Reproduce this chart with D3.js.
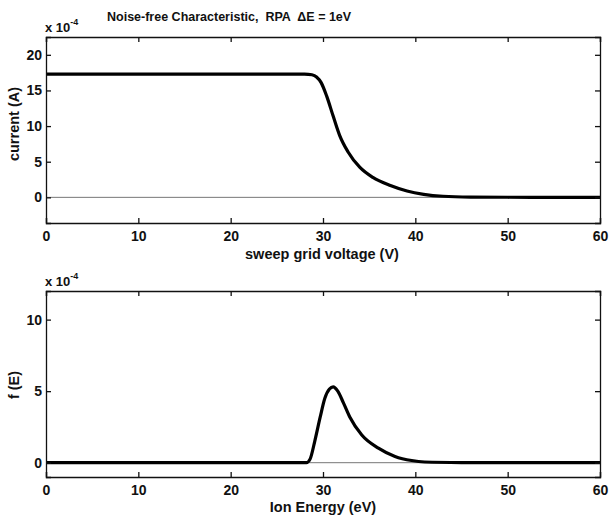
<!DOCTYPE html>
<html>
<head>
<meta charset="utf-8">
<script src="https://cdn.jsdelivr.net/npm/d3@7"></script>
<style>
  body { margin: 0; background: #fff; }
  svg text { font-family: "Liberation Sans", Arial, sans-serif; font-weight: bold; fill: #111; }
</style>
</head>
<body>
<div id="chart"></div>
<script>
// Top panel: current vs sweep grid voltage (x 10^-4 A)
const sweepVoltage = [0, 10, 20, 26, 28.0, 28.8, 29.3, 29.8, 30.4, 31.1, 31.8, 32.7, 34.0, 35.4, 37.3, 39.1, 40.9, 43, 46, 50, 55, 60];
const current      = [17.3, 17.3, 17.3, 17.3, 17.3, 17.2, 16.9, 16.1, 14.2, 11.4, 8.7, 6.4, 4.2, 2.8, 1.65, 0.88, 0.42, 0.15, 0.04, 0.01, 0, 0];

// Bottom panel: f(E) vs ion energy (x 10^-4)
const ionEnergy = [0, 10, 20, 26, 28.2, 28.6, 29.1, 29.7, 30.2, 30.7, 31.1, 31.6, 32.2, 32.9, 34.2, 36.0, 37.8, 39.6, 41, 45, 50, 55, 60];
const fE        = [0, 0, 0, 0, 0, 0.25, 1.48, 3.2, 4.5, 5.15, 5.3, 5.0, 4.2, 3.2, 1.94, 1.02, 0.44, 0.15, 0.05, 0.01, 0, 0, 0];

const xTicks = [0, 10, 20, 30, 40, 50, 60];
const topYTicks = [0, 5, 10, 15, 20];
const bottomYTicks = [0, 5, 10];

const svg = d3.select('#chart').append('svg')
    .attr('width', 609)
    .attr('height', 515);

const left = 46, right = 600;

// Draw one panel
const panel = (cfg) => {
    const x = d3.scaleLinear().domain([0, 60]).range([left, right]);
    const y = d3.scaleLinear().domain(cfg.yDomain).range([cfg.bottom, cfg.top]);
    const g = svg.append('g');

    // zero line
    g.append('line')
        .attr('x1', left).attr('x2', right)
        .attr('y1', y(0)).attr('y2', y(0))
        .attr('stroke', '#777').attr('stroke-width', 1);

    // curve
    const line = d3.line()
        .x((d, i) => x(cfg.xs[i]))
        .y(d => y(d))
        .curve(d3.curveMonotoneX);
    g.append('path')
        .datum(cfg.ys)
        .attr('d', line)
        .attr('fill', 'none')
        .attr('stroke', '#000')
        .attr('stroke-width', 3.2);

    // axes (ticks pointing inward, mirrored)
    g.append('g').attr('transform', `translate(0,${cfg.bottom})`)
        .call(d3.axisBottom(x).tickValues(xTicks).tickSize(-5).tickPadding(8));
    g.append('g').attr('transform', `translate(0,${cfg.top})`)
        .call(d3.axisTop(x).tickValues(xTicks).tickSize(-5).tickFormat(''));
    g.append('g').attr('transform', `translate(${left},0)`)
        .call(d3.axisLeft(y).tickValues(cfg.yTicks).tickSize(-5).tickPadding(4));
    g.append('g').attr('transform', `translate(${right},0)`)
        .call(d3.axisRight(y).tickValues(cfg.yTicks).tickSize(-5).tickFormat(''));

    g.selectAll('.domain').attr('stroke', '#111').attr('stroke-width', 1.3);
    g.selectAll('.tick line').attr('stroke', '#111').attr('stroke-width', 1.3);
    g.selectAll('.tick text')
        .style('font-family', '"Liberation Sans", Arial, sans-serif')
        .style('font-weight', 'bold')
        .style('font-size', '14px')
        .attr('fill', '#111');

    // exponent label
    const ex = g.append('text')
        .attr('x', left - 1).attr('y', cfg.top - 5)
        .style('font-size', '13px');
    ex.append('tspan').text('x 10');
    ex.append('tspan').attr('dy', -7).style('font-size', '9px').text('-4');

    // axis labels
    g.append('text')
        .attr('x', cfg.xLabelX)
        .attr('y', cfg.bottom + cfg.xLabelDy)
        .attr('text-anchor', 'middle')
        .style('font-size', '14.5px')
        .text(cfg.xLabel);
    g.append('text')
        .attr('transform', `translate(19,${cfg.yLabelY}) rotate(-90)`)
        .attr('text-anchor', 'middle')
        .style('font-size', '14.5px')
        .text(cfg.yLabel);
};

panel({
    xs: sweepVoltage, ys: current,
    yDomain: [-3.6, 22.5], yTicks: topYTicks,
    top: 37, bottom: 223,
    xLabel: 'sweep grid voltage (V)', xLabelX: 322, xLabelDy: 36,
    yLabel: 'current (A)', yLabelY: 124
});

panel({
    xs: ionEnergy, ys: fE,
    yDomain: [-1, 12], yTicks: bottomYTicks,
    top: 291, bottom: 477,
    xLabel: 'Ion Energy (eV)', xLabelX: 323, xLabelDy: 35,
    yLabel: 'f (E)', yLabelY: 385
});

// title
svg.append('text')
    .attr('x', 107).attr('y', 21)
    .attr('xml:space', 'preserve')
    .style('white-space', 'pre')
    .style('font-size', '12.5px')
    .text('Noise-free Characteristic,  RPA  \u0394E = 1eV');
</script>
</body>
</html>
